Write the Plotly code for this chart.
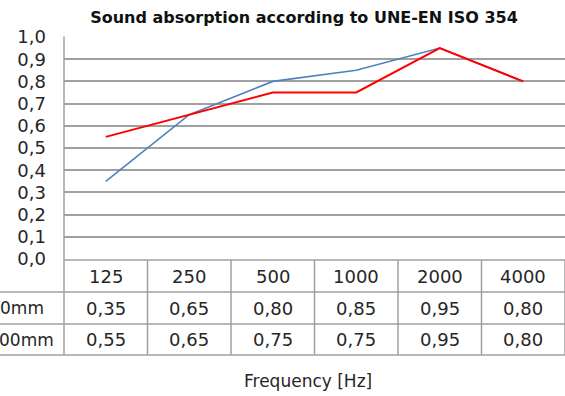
import plotly.graph_objects as go

# Octave-band centre frequencies and absorption coefficients
frequencies = ["125", "250", "500", "1000", "2000", "4000"]
series_a_name = "0mm"
series_a = [0.35, 0.65, 0.80, 0.85, 0.95, 0.80]
series_b_name = "00mm"
series_b = [0.55, 0.65, 0.75, 0.75, 0.95, 0.80]
y_ticks = [0.0, 0.1, 0.2, 0.3, 0.4, 0.5, 0.6, 0.7, 0.8, 0.9, 1.0]

W, H = 565, 396
ML, MR, MT, MB = 64, 0, 37, 137
PW, PH = W - ML - MR, H - MT - MB
FONT = "DejaVu Sans, Arial, sans-serif"
GRID = "#a0a0a0"
TEXT = "#262626"
FS = 17
FS_CELL = 18


def px_x(px):
    return (px - ML) / PW


def px_y(py):
    return (H - MB - py) / PH


def fmt(v):
    return f"{v:.2f}".replace(".", ",")


fig = go.Figure()
fig.add_trace(go.Scatter(x=frequencies, y=series_a, mode="lines", name=series_a_name,
                         line=dict(color="#4f81bd", width=1.6)))
fig.add_trace(go.Scatter(x=frequencies, y=series_b, mode="lines", name=series_b_name,
                         line=dict(color="#ff0000", width=2)))

shapes = []
# table grid lines
row_edges = [260, 292, 324, 355]
table_right = W + 5
shapes.append(dict(type="line", xref="paper", yref="paper", x0=px_x(ML), x1=px_x(table_right),
                   y0=px_y(row_edges[0]), y1=px_y(row_edges[0]), line=dict(color=GRID, width=1.5)))
for ry in row_edges[1:]:
    shapes.append(dict(type="line", xref="paper", yref="paper", x0=px_x(0), x1=px_x(table_right),
                       y0=px_y(ry), y1=px_y(ry), line=dict(color=GRID, width=1.5)))
col_w = PW / len(frequencies)
for i in range(len(frequencies) + 1):
    cx = ML + i * col_w
    top = 36.5 if i == 0 else row_edges[0]
    shapes.append(dict(type="line", xref="paper", yref="paper", x0=px_x(cx), x1=px_x(cx),
                       y0=px_y(top), y1=px_y(row_edges[-1]), line=dict(color=GRID, width=1.5)))

annotations = []
row_centers = [(row_edges[k] + row_edges[k + 1]) / 2 for k in range(3)]
rows = [frequencies, [fmt(v) for v in series_a], [fmt(v) for v in series_b]]
for r, cells in enumerate(rows):
    for i, txt in enumerate(cells):
        annotations.append(dict(x=i, xref="x", y=px_y(row_centers[r]), yref="paper", text=txt,
                                xanchor="center", yanchor="middle",
                                showarrow=False, font=dict(size=FS_CELL, color=TEXT, family=FONT)))
annotations.append(dict(x=px_x(46), xref="paper", y=px_y(row_centers[1]), yref="paper", text=series_a_name,
                        xanchor="right", yanchor="middle",
                        showarrow=False, font=dict(size=FS, color=TEXT, family=FONT)))
annotations.append(dict(x=px_x(56), xref="paper", y=px_y(row_centers[2]), yref="paper", text=series_b_name,
                        xanchor="right", yanchor="middle",
                        showarrow=False, font=dict(size=FS, color=TEXT, family=FONT)))
annotations.append(dict(x=px_x(308), xref="paper", y=px_y(381), yref="paper", text="Frequency [Hz]",
                        xanchor="center", yanchor="middle",
                        showarrow=False, font=dict(size=FS, color=TEXT, family=FONT)))

fig.update_layout(
    width=W, height=H,
    margin=dict(l=ML, r=MR, t=MT, b=MB, pad=0),
    paper_bgcolor="white", plot_bgcolor="white",
    separators=",.",
    showlegend=False,
    title=dict(text="<b>Sound absorption according to UNE-EN ISO 354</b>",
               x=304 / W, xanchor="center", y=1 - 17 / H, yanchor="middle",
               font=dict(size=16, color="#111111", family=FONT)),
    xaxis=dict(type="category", range=[-0.5, 5.5], showticklabels=False, showgrid=False,
               zeroline=False, showline=False, ticks=""),
    yaxis=dict(range=[0, 1], tickvals=y_ticks, tickformat=".1f", showgrid=True, gridcolor=GRID,
               gridwidth=1.5, zeroline=False, showline=False, ticks="",
               ticklabelstandoff=17, tickfont=dict(size=18, color=TEXT, family=FONT)),
    shapes=shapes,
    annotations=annotations,
)

fig.write_html("out.html")
